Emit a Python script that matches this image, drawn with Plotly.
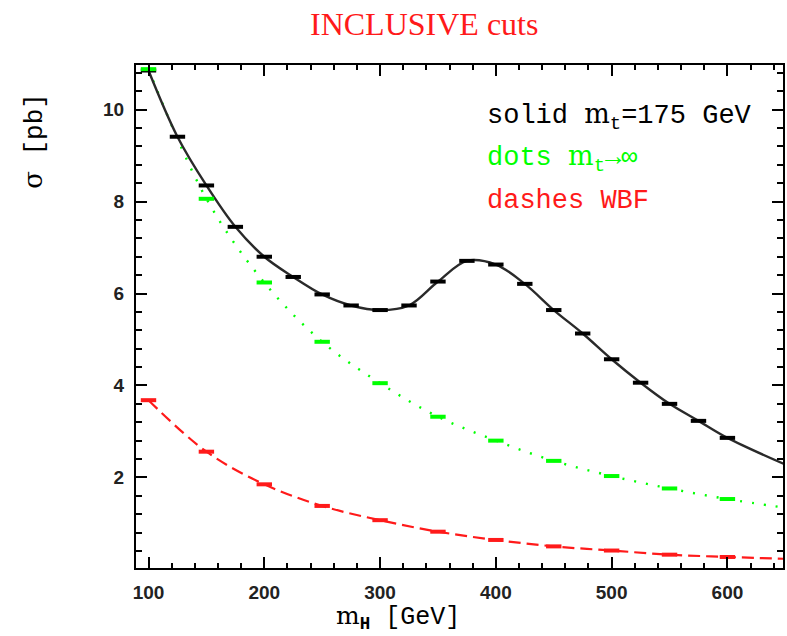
import plotly.graph_objects as go

# Higgs mass grid (GeV) and cross sections (pb)
mh_fine = [100, 125, 150, 175, 200, 225, 250, 275, 300, 325, 350, 375, 400,
           425, 450, 475, 500, 525, 550, 575, 600, 650]
sigma_full_mt = [10.85, 9.41, 8.35, 7.45, 6.80, 6.36, 5.98, 5.74, 5.64, 5.74,
                 6.26, 6.71, 6.63, 6.21, 5.64, 5.13, 4.57, 4.06, 3.60, 3.23,
                 2.86, 2.28]

mh_coarse = [100, 150, 200, 250, 300, 350, 400, 450, 500, 550, 600, 650]
sigma_heavy_top = [10.88, 8.06, 6.24, 4.95, 4.05, 3.32, 2.80, 2.36, 2.03,
                   1.76, 1.53, 1.34]
sigma_wbf = [3.68, 2.56, 1.85, 1.38, 1.07, 0.82, 0.64, 0.50, 0.41, 0.32,
             0.27, 0.23]

x_ticks = [100, 200, 300, 400, 500, 600]
y_ticks = [2, 4, 6, 8, 10]

BLACK = "#2a2a2a"
GREEN = "#00ff00"
RED = "#ff1a1a"
MONO = "Liberation Mono"

fig = go.Figure()

# smooth curves
fig.add_trace(go.Scatter(
    x=mh_coarse, y=sigma_wbf, mode="lines",
    line=dict(color=RED, width=2.2, dash="12px,6px", shape="spline", smoothing=1.0),
    hoverinfo="skip"))
fig.add_trace(go.Scatter(
    x=mh_coarse, y=sigma_heavy_top, mode="lines",
    line=dict(color=GREEN, width=2.4, dash="2px,10px", shape="spline", smoothing=1.0),
    hoverinfo="skip"))
fig.add_trace(go.Scatter(
    x=mh_fine, y=sigma_full_mt, mode="lines",
    line=dict(color=BLACK, width=2.4, shape="spline", smoothing=1.0),
    hoverinfo="skip"))

# Monte Carlo points drawn as short horizontal bars
def bars(x, y, color, size):
    return go.Scatter(
        x=x[:-1], y=y[:-1], mode="markers",
        marker=dict(symbol="line-ew", size=size, color=color,
                    line=dict(color=color, width=4)),
        hoverinfo="skip")

fig.add_trace(bars(mh_fine, sigma_full_mt, "#000000", 11))
fig.add_trace(bars(mh_coarse, sigma_heavy_top, GREEN, 11))
fig.add_trace(bars(mh_coarse, sigma_wbf, RED, 11))

axis_common = dict(
    showline=True, linecolor="black", linewidth=2, mirror="ticks",
    ticks="inside", tickcolor="black", tickwidth=2, ticklen=11,
    showgrid=False, zeroline=False,
    tickfont=dict(family="Liberation Sans", size=19, color="#222", weight="bold"),
)

fig.update_xaxes(
    range=[89.2, 648], tickvals=x_ticks, ticklabelstandoff=6,
    minor=dict(ticks="inside", dtick=20, tick0=0, ticklen=5, tickwidth=2,
               tickcolor="black", showgrid=False),
    **axis_common)
fig.update_yaxes(
    range=[0.03, 10.97], tickvals=y_ticks, ticklabelstandoff=6,
    minor=dict(ticks="inside", dtick=0.4, tick0=0, ticklen=6, tickwidth=2,
               tickcolor="black", showgrid=False),
    **axis_common)

key_font = dict(family=MONO, size=27)
annotations = [
    # title
    dict(text="INCLUSIVE cuts", x=0.4455, y=1.0816, xref="paper", yref="paper",
         xanchor="center", yanchor="middle", showarrow=False,
         font=dict(family="Liberation Serif", size=32, color=RED)),
    # curve key
    dict(text='solid <span style="font-family:DejaVu Serif">m</span><sub>t</sub>=175 GeV',
         x=0.540, y=0.898, xref="paper", yref="paper", xanchor="left",
         yanchor="middle", showarrow=False,
         font=dict(key_font, color="black")),
    dict(text='dots <span style="font-family:DejaVu Serif">m</span><sub>t</sub>→∞',
         x=0.540, y=0.815, xref="paper", yref="paper", xanchor="left",
         yanchor="middle", showarrow=False,
         font=dict(key_font, color=GREEN)),
    dict(text="dashes WBF",
         x=0.540, y=0.729, xref="paper", yref="paper", xanchor="left",
         yanchor="middle", showarrow=False,
         font=dict(key_font, color=RED)),
    # axis titles
    dict(text='<span style="font-family:DejaVu Serif">m</span><sub><b>H</b></sub> [GeV]',
         x=0.405, y=-0.098, xref="paper", yref="paper", xanchor="center",
         yanchor="middle", showarrow=False,
         font=dict(family=MONO, size=25, color="black")),
    dict(text='<span style="font-family:DejaVu Serif">σ</span> [pb]',
         x=-0.157, y=0.85, xref="paper", yref="paper", xanchor="center",
         yanchor="middle", showarrow=False, textangle=-90,
         font=dict(family=MONO, size=26, color="black")),
]

fig.update_layout(
    width=787, height=636,
    margin=dict(l=136, r=2, t=65, b=68),
    paper_bgcolor="white", plot_bgcolor="white",
    showlegend=False,
    annotations=annotations,
)

fig.write_html("out.html")
